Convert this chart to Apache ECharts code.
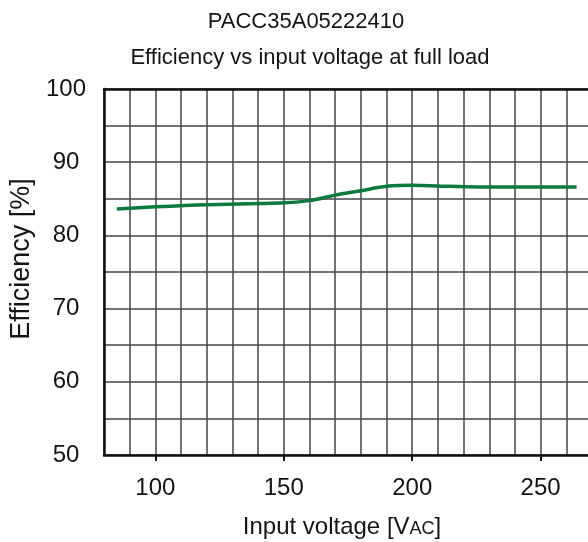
<!DOCTYPE html>
<html>
<head>
<meta charset="utf-8">
<script src="https://cdn.jsdelivr.net/npm/echarts@6/dist/echarts.min.js"></script>
<style>
html,body{margin:0;padding:0;background:#fff;}
#chart{width:588px;height:542px;}
</style>
</head>
<body>
<div id="chart"></div>
<script>
const titleLines = ["PACC35A05222410", "Efficiency vs input voltage at full load"];
const voltage = [85, 100, 120, 140, 150, 160, 170, 180, 190, 200, 215, 230, 264];
const efficiency = [83.6, 83.9, 84.2, 84.35, 84.45, 84.75, 85.5, 86.1, 86.7, 86.85, 86.7, 86.6, 86.6];
const xTickLabels = [100, 150, 200, 250];
const yTickLabels = [50, 60, 70, 80, 90, 100];

const chart = echarts.init(document.getElementById('chart'), null, {renderer: 'canvas'});
const font = '"Liberation Sans", Arial, sans-serif';
const gridColor = '#444';
const textColor = '#141414';

chart.setOption({
  animation: false,
  backgroundColor: '#fff',
  graphic: [
    {type: 'text', x: 306, y: 22, style: {text: titleLines[0], fill: textColor, font: '22px ' + font, textAlign: 'center', textVerticalAlign: 'middle'}},
    {type: 'text', x: 310, y: 58, style: {text: titleLines[1], fill: textColor, font: '22px ' + font, textAlign: 'center', textVerticalAlign: 'middle'}}
  ],
  grid: {left: 104, top: 89, width: 488, height: 366, containLabel: false, outerBoundsMode: 'none'},
  xAxis: [{
    type: 'value', min: 80, max: 270, interval: 10,
    name: 'Input voltage [V{s|AC}]',
    nameLocation: 'middle', nameGap: 60,
    nameTextStyle: {fontFamily: font, fontSize: 24, color: textColor, padding: [0, 12, 0, 0],
      rich: {s: {fontFamily: font, fontSize: 18, color: textColor, padding: [4, 0, 0, 0]}}},
    axisLine: {show: true, onZero: false, lineStyle: {color: '#111', width: 2.5}},
    axisTick: {show: true, inside: false, length: 6, customValues: xTickLabels, lineStyle: {color: '#111', width: 2}},
    axisLabel: {customValues: xTickLabels, fontFamily: font, fontSize: 24, color: textColor, margin: 21},
    splitLine: {show: false}
  }, {
    type: 'value', position: 'top', min: 80, max: 270, interval: 10,
    axisLine: {show: true, onZero: false, lineStyle: {color: '#111', width: 2.5}},
    axisTick: {show: false}, axisLabel: {show: false},
    splitLine: {show: true, lineStyle: {color: gridColor, width: 1.5}}
  }],
  yAxis: {
    type: 'value', min: 50, max: 100, interval: 5,
    name: 'Efficiency [%]',
    nameLocation: 'middle', nameGap: 60,
    nameTextStyle: {fontFamily: font, fontSize: 27, color: textColor, padding: [0, 0, 0, 26]},
    axisLine: {show: true, onZero: false, lineStyle: {color: '#111', width: 2.5}},
    axisTick: {show: false},
    axisLabel: {customValues: yTickLabels, fontFamily: font, fontSize: 24, color: textColor, margin: 38, align: 'center'},
    splitLine: {show: true, lineStyle: {color: gridColor, width: 1.5}}
  },
  series: [{
    type: 'line', xAxisIndex: 0,
    data: voltage.map((v, i) => [v, efficiency[i]]),
    smooth: 0.3, showSymbol: false,
    lineStyle: {color: '#0b7a3b', width: 3.5}
  }]
});
</script>
</body>
</html>
